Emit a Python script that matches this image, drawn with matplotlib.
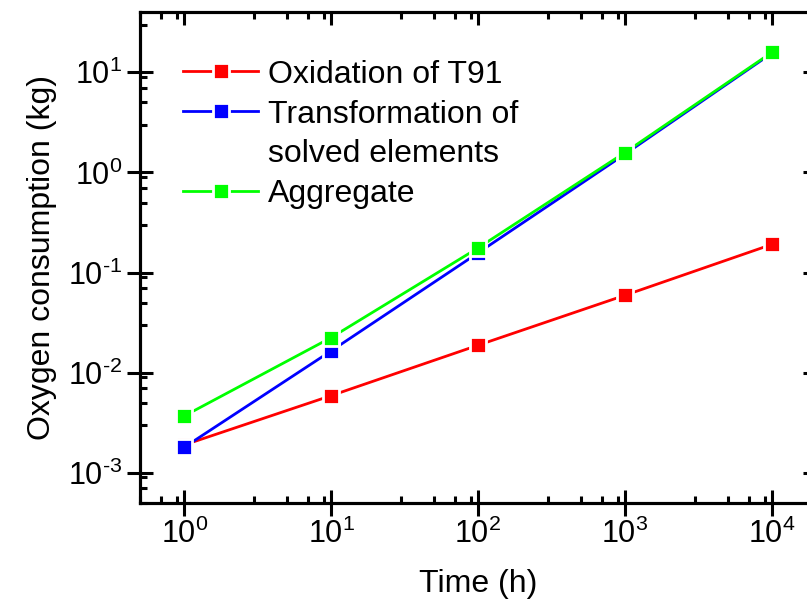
import numpy as np
import matplotlib as mpl
mpl.use("Agg")
import matplotlib.pyplot as plt
from matplotlib.ticker import LogLocator, NullFormatter, FuncFormatter

plt.rcParams["font.family"] = ["Liberation Sans", "DejaVu Sans"]
plt.rcParams["mathtext.default"] = "regular"
plt.rcParams["axes.unicode_minus"] = False

time_h = [1, 10, 100, 1000, 10000]
oxidation = [0.0019, 0.0059, 0.0188, 0.0593, 0.191]
transformation = [0.0018, 0.0165, 0.157, 1.52, 15.5]
aggregate = [0.0037, 0.0224, 0.176, 1.58, 15.8]

labels = ["Oxidation of T91", "Transformation of", "Aggregate"]
label_extra = "solved elements"
colors = ["#ff0000", "#0000ff", "#00ff00"]


def pow10(v, pos):
    e = int(round(np.log10(v)))
    s = str(e).replace("-", "\u2010")
    return "$10^{" + s + "}$"


W, H = 807, 603
fig = plt.figure(figsize=(W / 100, H / 100), dpi=100)
left, right, top, bottom = 140, 816, 12, 503
ax = fig.add_axes([left / W, 1 - bottom / H, (right - left) / W, (bottom - top) / H])

handles = []
for label, values, color in zip(labels, [oxidation, transformation, aggregate], colors):
    h, = ax.plot(time_h, values, color=color, lw=2.0, marker="s", markersize=12,
                 markerfacecolor=color, markeredgecolor="white", markeredgewidth=2,
                 label=label)
    handles.append(h)
# second line of the blue label, without a handle
blank, = ax.plot([], [], color="none", label=label_extra)
handles.insert(2, blank)

ax.set_xscale("log")
ax.set_yscale("log")
ax.set_xlim(0.5, 2e4)
ax.set_ylim(5e-4, 40)

ax.xaxis.set_minor_locator(LogLocator(base=10, subs=(3, 5, 7, 9)))
ax.yaxis.set_minor_locator(LogLocator(base=10, subs=(3, 5, 7, 9)))
ax.xaxis.set_minor_formatter(NullFormatter())
ax.yaxis.set_minor_formatter(NullFormatter())
ax.xaxis.set_major_formatter(FuncFormatter(pow10))
ax.yaxis.set_major_formatter(FuncFormatter(pow10))

ax.tick_params(which="major", direction="inout", length=18.5, width=2.2,
               labelsize=22, top=False, right=False)
ax.tick_params(which="minor", direction="in", length=5, width=2.2,
               top=False, right=False)
ax.tick_params(axis="x", which="major", pad=2)
for sp in ax.spines.values():
    sp.set_linewidth(2.2)

# inward ticks on top and right
axt = ax.twiny()
axt.set_xscale("log")
axt.set_xlim(ax.get_xlim())
axt.xaxis.set_minor_locator(LogLocator(base=10, subs=(3, 5, 7, 9)))
axt.tick_params(which="major", direction="in", length=9.3, width=2.2, labeltop=False)
axt.tick_params(which="minor", direction="in", length=5, width=2.2)
axr = ax.twinx()
axr.set_yscale("log")
axr.set_ylim(ax.get_ylim())
axr.yaxis.set_minor_locator(LogLocator(base=10, subs=(3, 5, 7, 9)))
axr.tick_params(which="major", direction="in", length=9.3, width=2.2, labelright=False)
axr.tick_params(which="minor", direction="in", length=5, width=2.2)
for a in (axt, axr):
    for sp in a.spines.values():
        sp.set_linewidth(2.2)

ax.set_xlabel("Time (h)", fontsize=23, labelpad=14)
ax.set_ylabel("Oxygen consumption (kg)", fontsize=23, labelpad=8)

ax.legend(handles=handles, loc="upper left", bbox_to_anchor=(0.0636, 0.903),
          frameon=False, fontsize=23, handlelength=2.35, handletextpad=0.3,
          borderpad=0, borderaxespad=0, labelspacing=0.31)

fig.savefig("out.png", dpi=100)
